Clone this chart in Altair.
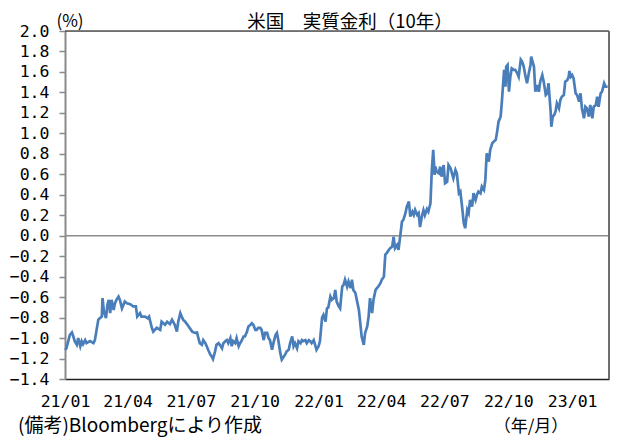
import altair as alt
import pandas as pd

# Observation dates as day offsets from 2021-01-01, and US 10Y real yield (%)
day_offsets = [
    0, 2, 7, 10, 12, 14, 17, 19, 22, 24,
    26, 29, 31, 36, 41, 43, 46, 48, 50, 53,
    54, 56, 59, 61, 63, 65, 67, 70, 72, 74,
    77, 79, 82, 84, 86, 89, 94, 98, 102, 104,
    108, 110, 115, 119, 121, 125, 127, 132, 137, 139,
    144, 147, 151, 154, 158, 161, 163, 166, 168, 170,
    173, 178, 183, 187, 190, 192, 194, 197, 199, 202,
    204, 206, 209, 211, 213, 216, 218, 221, 223, 226,
    228, 231, 233, 235, 238, 240, 242, 245, 247, 250,
    252, 254, 257, 259, 262, 264, 267, 269, 271, 274,
    276, 278, 281, 283, 286, 288, 291, 293, 295, 298,
    300, 303, 305, 307, 310, 312, 315, 317, 319, 322,
    324, 327, 329, 331, 334, 336, 339, 341, 343, 346,
    348, 351, 353, 355, 358, 360, 362, 365, 367, 370,
    372, 375, 377, 379, 382, 384, 387, 389, 391, 394,
    396, 399, 401, 403, 406, 408, 411, 413, 415, 418,
    420, 423, 425, 427, 430, 432, 435, 437, 439, 442,
    444, 447, 449, 451, 454, 456, 459, 461, 463, 466,
    468, 471, 473, 475, 478, 480, 483, 485, 487, 490,
    492, 495, 497, 500, 502, 504, 507, 509, 511, 514,
    516, 518, 521, 523, 526, 528, 530, 532, 533, 535,
    538, 540, 542, 545, 547, 550, 552, 555, 557, 559,
    562, 564, 567, 569, 571, 574, 576, 579, 581, 583,
    586, 588, 591, 593, 595, 598, 600, 603, 605, 607,
    610, 612, 615, 617, 620, 622, 624, 627, 629, 631,
    632, 634, 635, 637, 639, 641, 643, 646, 648, 651,
    653, 656, 658, 660, 663, 665, 668, 670, 671, 673,
    675, 677, 680, 682, 684, 687, 689, 692, 694, 696,
    699, 700, 702, 704, 706, 708, 711, 713, 715, 718,
    720, 723, 725, 726, 728, 730, 732, 735, 737, 740,
    742, 744, 747, 749, 751, 754, 756, 759, 761, 764,
    766, 768, 771, 773, 776, 778, 781,
]
real_yield = [
    -1.115, -1.10, -0.97, -0.946, -0.985, -1.03, -1.066, -1.00, -1.08, -1.03,
    -1.06, -1.02, -1.05, -1.03, -1.05, -1.02, -0.90, -0.82, -0.806, -0.79,
    -0.61, -0.74, -0.806, -0.676, -0.627, -0.757, -0.627, -0.725, -0.66, -0.627,
    -0.595, -0.627, -0.71, -0.676, -0.643, -0.66, -0.67, -0.69, -0.69, -0.79,
    -0.757, -0.79, -0.79, -0.806, -0.79, -0.90, -0.937, -0.90, -0.92, -0.84,
    -0.87, -0.84, -0.864, -0.82, -0.87, -0.937, -0.84, -0.757, -0.79, -0.82,
    -0.84, -0.887, -0.937, -0.95, -0.946, -1.00, -1.05, -1.066, -1.02, -1.05,
    -1.08, -1.115, -1.16, -1.18, -1.206, -1.13, -1.066, -1.05, -1.066, -1.10,
    -1.05, -1.03, -1.02, -1.05, -1.00, -1.08, -1.03, -1.05, -1.00, -1.08,
    -1.05, -1.03, -0.985, -0.985, -0.937, -0.887, -0.87, -0.855, -0.87, -0.92,
    -0.92, -0.90, -0.90, -0.92, -1.02, -0.95, -0.95, -1.00, -1.02, -1.115,
    -1.05, -0.97, -0.95, -1.02, -1.15, -1.21, -1.18, -1.16, -1.13, -1.115,
    -1.05, -0.985, -1.08, -1.05, -1.10, -1.03, -1.05, -1.02, -1.03, -1.02,
    -1.05, -1.02, -1.03, -1.05, -1.02, -1.066, -1.115, -1.08, -1.03, -0.80,
    -0.773, -0.84, -0.71, -0.70, -0.595, -0.627, -0.61, -0.53, -0.643, -0.69,
    -0.71, -0.497, -0.48, -0.43, -0.497, -0.448, -0.513, -0.43, -0.53, -0.56,
    -0.627, -0.725, -0.855, -0.985, -1.066, -0.95, -0.887, -0.79, -0.61, -0.757,
    -0.627, -0.53, -0.513, -0.497, -0.464, -0.43, -0.40, -0.187, -0.17, -0.139,
    -0.122, -0.106, -0.009, -0.122, -0.09, -0.139, 0.024, 0.138, 0.154, 0.22,
    0.284, 0.333, 0.187, 0.235, 0.203, 0.252, 0.203, 0.22, 0.085, 0.20,
    0.25, 0.20, 0.26, 0.235, 0.317, 0.643, 0.838, 0.594, 0.675, 0.626,
    0.61, 0.675, 0.577, 0.691, 0.513, 0.528, 0.691, 0.659, 0.61, 0.561,
    0.643, 0.61, 0.415, 0.431, 0.317, 0.122, 0.073, 0.252, 0.22, 0.35,
    0.284, 0.415, 0.35, 0.40, 0.431, 0.415, 0.48, 0.447, 0.545, 0.806,
    0.724, 0.838, 0.903, 0.919, 0.936, 1.017, 1.114, 1.163, 1.326, 1.52,
    1.62, 1.456, 1.65, 1.668, 1.407, 1.553, 1.635, 1.62, 1.62, 1.586,
    1.553, 1.72, 1.70, 1.66, 1.55, 1.49, 1.603, 1.668, 1.749, 1.70,
    1.651, 1.407, 1.473, 1.407, 1.505, 1.570, 1.505, 1.375, 1.391, 1.489,
    1.212, 1.065, 1.163, 1.18, 1.212, 1.294, 1.245, 1.326, 1.358, 1.375,
    1.505, 1.52, 1.553, 1.609, 1.553, 1.570, 1.538, 1.391, 1.375, 1.31,
    1.391, 1.245, 1.147, 1.26, 1.245, 1.163, 1.277, 1.147, 1.26, 1.277,
    1.358, 1.26, 1.391, 1.407, 1.489, 1.456, 1.456,
]

y_ticks = [-1.4, -1.2, -1.0, -0.8, -0.6, -0.4, -0.2, 0.0, 0.2, 0.4, 0.6,
           0.8, 1.0, 1.2, 1.4, 1.6, 1.8, 2.0]
x_tick_months = [(2021, 1), (2021, 4), (2021, 7), (2021, 10), (2022, 1),
                 (2022, 4), (2022, 7), (2022, 10), (2023, 1)]

title_text = "米国　実質金利（10年）"
unit_text = "(%)"
source_text = "(備考)Bloombergにより作成"
xunit_text = "（年/月）"

df = pd.DataFrame({
    "date": pd.Timestamp("2021-01-01") + pd.to_timedelta(day_offsets, unit="D"),
    "value": real_yield,
})

W, H = 544, 348
JP = "Noto Sans CJK JP"
NUM = "DejaVu Sans Mono"

x_scale = alt.Scale(domain=[alt.DateTime(year=2021, month=1, date=1),
                            alt.DateTime(year=2023, month=2, date=23)])
y_scale = alt.Scale(domain=[-1.4, 2.0], nice=False, zero=False)

y_axis = alt.Axis(values=y_ticks, format=".1f", tickSize=6, tickColor="#8a8a8a",
                  tickWidth=1.5, domainColor="#8a8a8a", domainWidth=2, grid=False,
                  labelOverlap=False, labelFlush=False,
                  labelPadding=10, labelFont=NUM, labelFontSize=16.5,
                  labelColor="#000000")

line = alt.Chart(df).mark_line(color="#4a7ebb", strokeWidth=2.7).encode(
    x=alt.X("date:T", scale=x_scale, title=None,
            axis=alt.Axis(values=[alt.DateTime(year=y, month=m, date=1) for y, m in x_tick_months],
                          format="%y/%m", tickSize=0, ticks=False, labelPadding=14,
                          labelOverlap=False, labelFlush=False,
                          domainColor="#222222", domainWidth=1.5, grid=False,
                          labelFont=NUM, labelFontSize=16.5, labelColor="#000000")),
    y=alt.Y("value:Q", scale=y_scale, title=None, axis=y_axis),
)

zero = alt.Chart(pd.DataFrame({"z": [0.0]})).mark_rule(color="#8c8c8c", strokeWidth=1.5).encode(
    y=alt.Y("z:Q", scale=y_scale, title=None, axis=y_axis)
)

top_border = alt.Chart(pd.DataFrame({"a": [0]})).mark_rule(color="#000000", strokeWidth=1).encode(
    x=alt.value(0), x2=alt.value(W), y=alt.value(0)
)
right_border = alt.Chart(pd.DataFrame({"a": [0]})).mark_rule(color="#6e6e6e", strokeWidth=2).encode(
    x=alt.value(W), y=alt.value(0), y2=alt.value(H)
)


def label(txt, x, y, size, align="center", font=JP):
    return alt.Chart(pd.DataFrame({"t": [txt]})).mark_text(
        font=font, fontSize=size, align=align, baseline="middle", color="#000000"
    ).encode(text="t:N", x=alt.value(x), y=alt.value(y))


texts = (
    label(title_text, 285, -9, 18.5)
    + label(unit_text, 5, -9, 17)
    + label(source_text, -47, 395, 19, align="left")
    + label(xunit_text, 466, 396, 17)
)

chart = alt.layer(zero, line, top_border, right_border, texts).properties(
    width=W, height=H,
    autosize=alt.AutoSizeParams(type="none"),
    padding={"left": 57, "top": 23, "right": 7, "bottom": 59},
).configure_view(stroke=None).configure(background="#ffffff")

chart.save("out.html", embed_options={"renderer": "svg", "actions": False})
